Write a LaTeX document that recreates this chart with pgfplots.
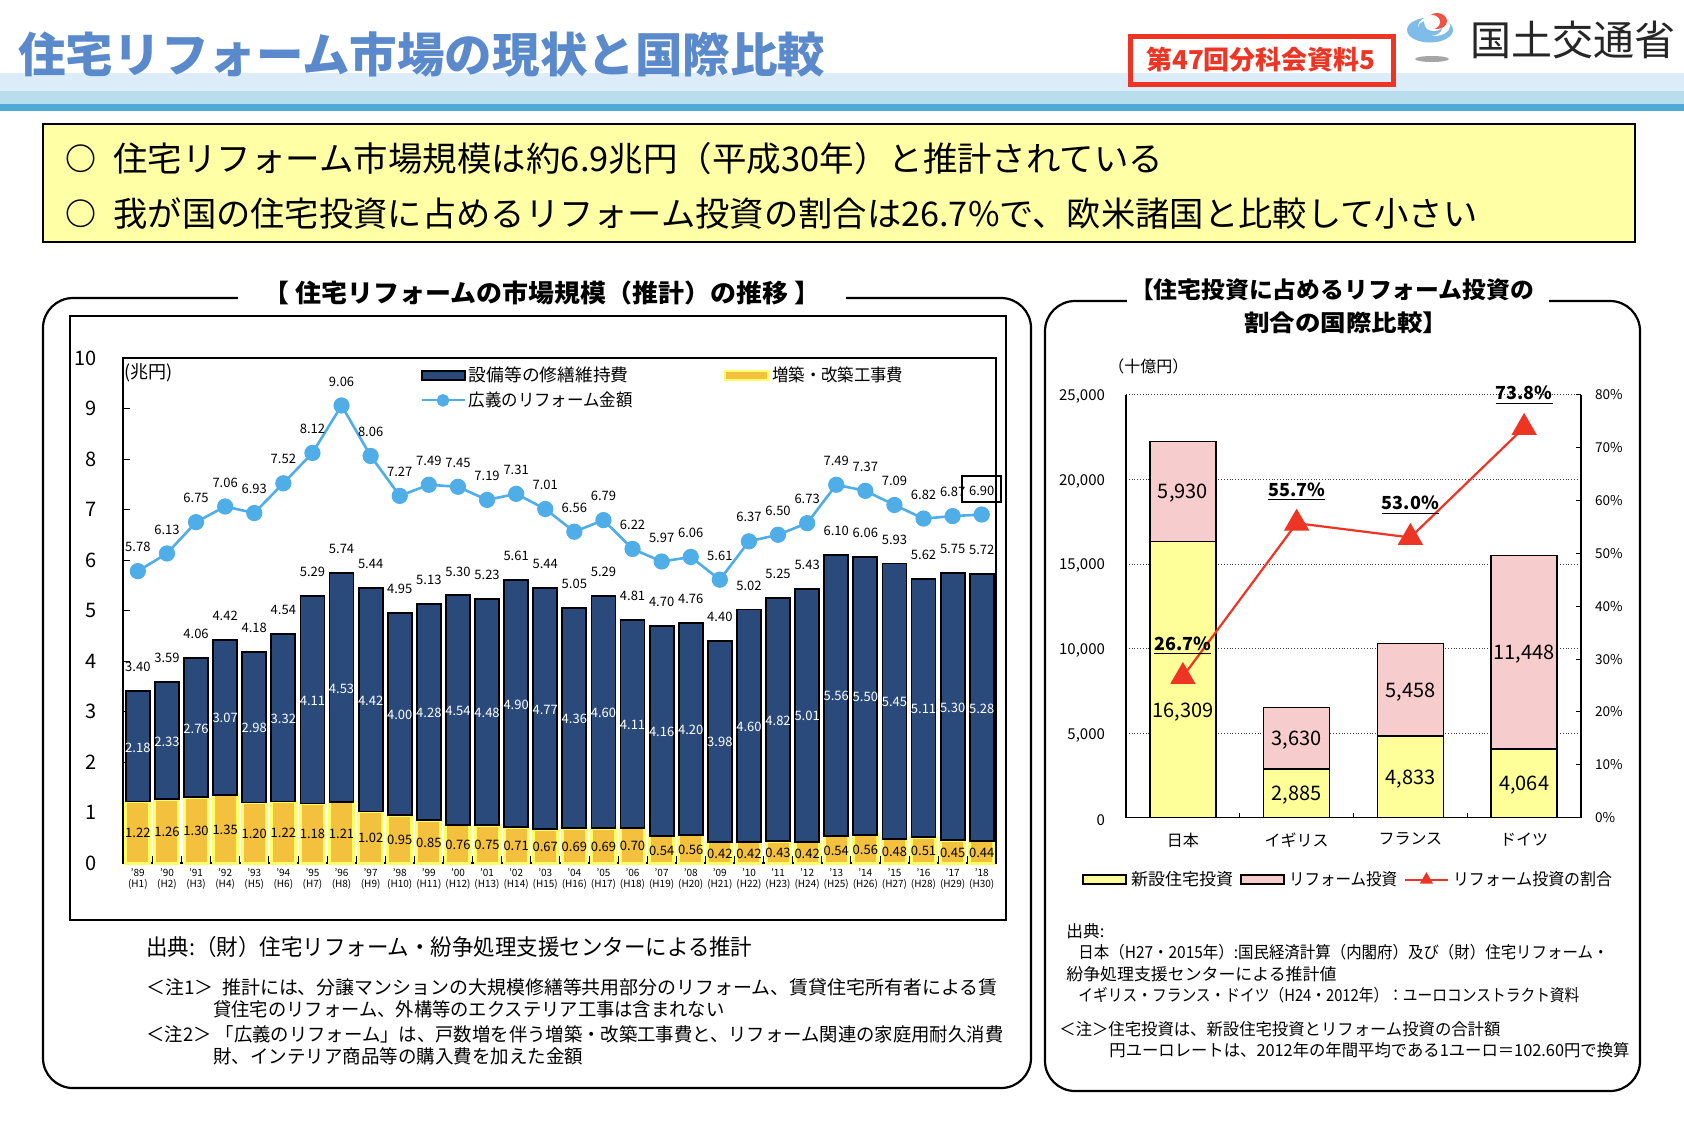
\documentclass[border=0pt]{standalone}
\usepackage{fontspec}
\usepackage{graphicx}
\usepackage{pgfplots}
\usepackage{pgfplotstable}
\pgfplotsset{compat=1.18}
\setmainfont{Noto Sans CJK JP}

\definecolor{navy}{HTML}{2B4A7C}
\definecolor{gold}{HTML}{F4C13E}
\definecolor{goldedge}{HTML}{FFFF66}
\definecolor{sky}{HTML}{4FAEE8}
\definecolor{newyel}{HTML}{FFFF99}
\definecolor{pink}{HTML}{F6CCCC}
\definecolor{redl}{HTML}{EE3524}
\definecolor{boxyel}{HTML}{FFFFA6}
\definecolor{titleblue}{HTML}{5A8ACB}

% text helpers, coordinates in reference pixels
\newcommand{\T}[5]{\node[anchor=#3,inner sep=0pt,font=\fontsize{#4}{#4}\selectfont] at (#1,#2) {#5};}
\newcommand{\TW}[5]{\node[anchor=west,inner sep=0pt,font=\fontsize{#4}{#4}\selectfont] at (#1,#2) {\resizebox{\dimexpr#3pt/2\relax}{\height}{#5}};}
% legend text squeezed to a width given in pt
\newcommand{\LW}[2]{\resizebox{#1pt}{\height}{#2}}

\pgfplotsset{
  swatch/.style={legend image code/.code={\draw[##1] (0pt,-2.2pt) rectangle (21.5pt,2.2pt);}},
  keyline/.style={legend image code/.code={\draw[mark repeat=2,mark phase=2,##1] plot coordinates {(0pt,0pt) (10.7pt,0pt) (21.5pt,0pt)};}},
}

\pgfplotstableread{
i ext rep total wide
0 1.22 2.18 3.40 5.78
1 1.26 2.33 3.59 6.13
2 1.30 2.76 4.06 6.75
3 1.35 3.07 4.42 7.06
4 1.20 2.98 4.18 6.93
5 1.22 3.32 4.54 7.52
6 1.18 4.11 5.29 8.12
7 1.21 4.53 5.74 9.06
8 1.02 4.42 5.44 8.06
9 0.95 4.00 4.95 7.27
10 0.85 4.28 5.13 7.49
11 0.76 4.54 5.30 7.45
12 0.75 4.48 5.23 7.19
13 0.71 4.90 5.61 7.31
14 0.67 4.77 5.44 7.01
15 0.69 4.36 5.05 6.56
16 0.69 4.60 5.29 6.79
17 0.70 4.11 4.81 6.22
18 0.54 4.16 4.70 5.97
19 0.56 4.20 4.76 6.06
20 0.42 3.98 4.40 5.61
21 0.42 4.60 5.02 6.37
22 0.43 4.82 5.25 6.50
23 0.42 5.01 5.43 6.73
24 0.54 5.56 6.10 7.49
25 0.56 5.50 6.06 7.37
26 0.48 5.45 5.93 7.09
27 0.51 5.11 5.62 6.82
28 0.45 5.30 5.75 6.87
29 0.44 5.28 5.72 6.90
}\markettab

\begin{document}
\begin{tikzpicture}
\useasboundingbox (0,0) rectangle (842pt,-563pt);
\begin{scope}[x=0.5pt,y=-0.5pt]
% header bands
\fill[white] (0,0) rectangle (1684,1126);
\fill[color={rgb,255:red,220;green,236;blue,249}] (0,73) rectangle (1684,91);
\fill[color={rgb,255:red,184;green,222;blue,237}] (0,91) rectangle (1684,104);
\fill[color={rgb,255:red,79;green,169;blue,214}] (0,104) rectangle (1684,111);
\node[anchor=west,inner sep=0pt,text=titleblue,font=\fontsize{23.7}{24}\selectfont\bfseries] at (18,55) {\resizebox{403.5pt}{\height}{住宅リフォーム市場の現状と国際比較}};
\draw[redl,line width=2.5pt] (1130,36) rectangle (1393,84);
\node[inner sep=0pt,text=redl,font=\fontsize{13}{13}\selectfont\bfseries] at (1261,60) {第47回分科会資料5};
% logo
\fill[black!35] (1432,59) ellipse (17 and 3);
\fill[color={rgb,255:red,127;green,188;blue,232}] (1430,30) ellipse (23 and 12.5);
\fill[white] (1434,26) ellipse (16 and 10);
\fill[color={rgb,255:red,127;green,188;blue,232}] (1430,28) ellipse (12 and 8);
\fill[white] (1434,25) ellipse (9 and 6);
\fill[redl!85] (1437,21) ellipse (10 and 8);
\fill[white] (1432,22) ellipse (8 and 7);
\node[anchor=west,inner sep=0pt,text=black!85,font=\fontsize{20.5}{21}\selectfont] at (1470,40) {国土交通省};
% summary box
\draw[fill=boxyel,line width=1pt] (43,124) rectangle (1635,242);
\node[anchor=west,inner sep=0pt,font=\fontsize{15.5}{16}\selectfont\bfseries] at (65,159) {○};
\TW{113}{159}{1050}{17}{住宅リフォーム市場規模は約6.9兆円（平成30年）と推計されている}
\node[anchor=west,inner sep=0pt,font=\fontsize{15.5}{16}\selectfont\bfseries] at (65,214) {○};
\TW{113}{214}{1364}{17}{我が国の住宅投資に占めるリフォーム投資の割合は26.7\%で、欧米諸国と比較して小さい}
% panels
\draw[line width=1.1pt,rounded corners=15pt] (43,298) rectangle (1031,1088);
\draw[white,line width=3pt] (238,298) -- (846,298);
\draw[line width=1.1pt,rounded corners=15pt] (1045,301) rectangle (1640,1091);
\draw[white,line width=3pt] (1127,301) -- (1549,301);
\draw[line width=1.15pt] (70,316) rectangle (1006,920);
\node[inner sep=0pt,font=\fontsize{12.5}{13}\selectfont\bfseries] at (542,293) {\resizebox{278pt}{\height}{【 住宅リフォームの市場規模（推計）の推移 】}};
\node[inner sep=0pt,font=\fontsize{11.5}{12}\selectfont\bfseries] at (1332,290) {\resizebox{202pt}{\height}{【住宅投資に占めるリフォーム投資の}};
\node[inner sep=0pt,font=\fontsize{11.5}{12}\selectfont\bfseries] at (1346,323) {\resizebox{102pt}{\height}{割合の国際比較】}};
\T{124}{373}{west}{9}{(兆円)}
\T{1108}{366}{west}{8}{（十億円）}
% notes under the left chart
\TW{146}{947}{606}{11.2}{出典:（財）住宅リフォーム・紛争処理支援センターによる推計}
\TW{146}{987}{851}{9.4}{＜注1＞\ \ 推計には、分譲マンションの大規模修繕等共用部分のリフォーム、賃貸住宅所有者による賃}
\TW{213}{1009}{511}{9.4}{貸住宅のリフォーム、外構等のエクステリア工事は含まれない}
\TW{146}{1034}{857}{9.4}{＜注2＞\ 「広義のリフォーム」は、戸数増を伴う増築・改築工事費と、リフォーム関連の家庭用耐久消費}
\TW{213}{1056}{370}{9.4}{財、インテリア商品等の購入費を加えた金額}
% notes under the right chart
\TW{1066}{931}{38}{8.3}{出典:}
\TW{1078}{952.5}{530}{8.3}{日本（H27・2015年）:国民経済計算（内閣府）及び（財）住宅リフォーム・}
\TW{1066}{974}{270}{8.3}{紛争処理支援センターによる推計値}
\TW{1078}{995.5}{501}{8.3}{イギリス・フランス・ドイツ（H24・2012年）：ユーロコンストラクト資料}
\TW{1059}{1029}{441}{8.3}{＜注＞住宅投資は、新設住宅投資とリフォーム投資の合計額}
\TW{1109}{1050.5}{520}{8.3}{円ユーロレートは、2012年の年間平均である1ユーロ＝102.60円で換算}
\end{scope}

% market size chart
\begin{axis}[
  at={(61.65pt,-431.5pt)}, anchor=south west,
  scale only axis, width=436.5pt, height=252.5pt,
  xmin=-0.5, xmax=29.5, ymin=0, ymax=10, clip=false,
  axis line style={line width=.85pt},
  tick style={black,line width=.4pt}, tick align=inside, major tick length=3.5pt,
  xtick pos=bottom, ytick pos=left,
  ytick={0,1,...,10},
  xtick={-0.5,0.5,...,29.5},
  x tick label as interval,
  xticklabels={{'89\\(H1)},{'90\\(H2)},{'91\\(H3)},{'92\\(H4)},{'93\\(H5)},{'94\\(H6)},{'95\\(H7)},{'96\\(H8)},{'97\\(H9)},{'98\\(H10)},{'99\\(H11)},{'00\\(H12)},{'01\\(H13)},{'02\\(H14)},{'03\\(H15)},{'04\\(H16)},{'05\\(H17)},{'06\\(H18)},{'07\\(H19)},{'08\\(H20)},{'09\\(H21)},{'10\\(H22)},{'11\\(H23)},{'12\\(H24)},{'13\\(H25)},{'14\\(H26)},{'15\\(H27)},{'16\\(H28)},{'17\\(H29)},{'18\\(H30)}},
  xticklabel style={align=center,font=\fontsize{5}{5.5}\selectfont,inner sep=1pt,yshift=-1.5pt},
  yticklabel style={font=\fontsize{10}{10}\selectfont,/pgf/number format/assume math mode=true},
  yticklabel shift=10pt,
  legend style={at={(0.340,0.990)},anchor=north west,draw=none,fill=none,inner sep=0pt,
    nodes={inner sep=1.5pt},
    font=\fontsize{8.7}{9}\selectfont,legend columns=2,
    /tikz/every even column/.append style={column sep=44.3pt},/tikz/row sep=0.7pt},
  legend cell align=left,
  nodes near coords={\pgfplotspointmeta},
]
\addplot[forget plot,ybar,bar shift=0pt,stack plots=y,bar width=12pt,fill=gold,draw=goldedge,line width=1.5pt,nodes near coords=] table[x=i,y=ext]{\markettab};
\addplot[forget plot,ybar,bar shift=0pt,stack plots=y,bar width=12pt,fill=navy,draw=black,line width=.9pt,nodes near coords=] table[x=i,y=rep]{\markettab};
\addplot[forget plot,stack plots=false,sky,line width=1.3pt,mark=*,mark size=3.4pt,mark options={fill=sky,draw=sky},nodes near coords=] table[x=i,y=wide]{\markettab};
% value labels
\addplot[forget plot,stack plots=false,only marks,mark=none,point meta=explicit symbolic,nodes near coords style={anchor=center,yshift=-.5pt,inner sep=0pt,font=\fontsize{6.5}{6.5}\selectfont,text=black}] table[x=i,y expr=\thisrow{ext}/2,meta=ext]{\markettab};
\addplot[forget plot,stack plots=false,only marks,mark=none,point meta=explicit symbolic,nodes near coords style={anchor=center,yshift=-.5pt,inner sep=0pt,font=\fontsize{6.5}{6.5}\selectfont,text=white}] table[x=i,y expr=\thisrow{ext}+\thisrow{rep}/2,meta=rep]{\markettab};
\addplot[forget plot,stack plots=false,only marks,mark=none,point meta=explicit symbolic,nodes near coords style={anchor=center,yshift=12pt,inner sep=0pt,font=\fontsize{6.5}{6.5}\selectfont,text=black}] table[x=i,y=total,meta=total]{\markettab};
\addplot[forget plot,stack plots=false,only marks,mark=none,point meta=explicit symbolic,nodes near coords style={anchor=center,yshift=12pt,inner sep=0pt,font=\fontsize{6.5}{6.5}\selectfont,text=black}] table[x=i,y=wide,meta=wide]{\markettab};
\addlegendimage{swatch,fill=navy,draw=black,line width=.9pt}
\addlegendentry{\LW{80}{設備等の修繕維持費}}
\addlegendimage{swatch,fill=gold,draw=goldedge,line width=1pt}
\addlegendentry{\LW{65.5}{増築・改築工事費}}
\addlegendimage{keyline,sky,line width=1.1pt,mark=*,mark size=2.6pt,mark options={fill=sky,draw=sky}}
\addlegendentry{\LW{82}{広義のリフォーム金額}}
\end{axis}

% international comparison, bars
\begin{axis}[
  at={(563pt,-408.85pt)}, anchor=south west,
  scale only axis, width=227.5pt, height=211.5pt,
  xmin=-0.5, xmax=3.5, ymin=0, ymax=25000, clip=false,
  axis x line=bottom, axis y line=left,
  axis line style={-,line width=.75pt},
  tick style={black,line width=.4pt}, tick align=inside, major tick length=2.5pt,
  ytick={0,5000,10000,15000,20000,25000},
  ytick style={draw=none},
  scaled y ticks=false,
  yticklabel={\pgfmathprintnumber[1000 sep={,},assume math mode=true]{\tick}},
  xtick={-0.5,0.5,1.5,2.5,3.5},
  x tick label as interval,
  xticklabels={日本,イギリス,フランス,ドイツ},
  xticklabel style={font=\fontsize{8}{8}\selectfont,yshift=-4pt},
  yticklabel style={font=\fontsize{7.5}{7.5}\selectfont,yshift=-1pt},
  yticklabel shift=7pt,
  ymajorgrids, grid style={densely dotted,line width=.35pt,black!75},
  legend style={at={(-0.0967,-0.1466)},anchor=west,draw=none,fill=none,inner sep=0pt,
    nodes={inner sep=2pt},
    font=\fontsize{8.4}{9}\selectfont,legend columns=3,
    /tikz/every even column/.append style={column sep=1.5pt}},
  legend cell align=left,
  nodes near coords={\pgfplotspointmeta},
]
\addplot[forget plot,ybar,bar shift=0pt,stack plots=y,bar width=33pt,fill=newyel,draw=black,line width=.7pt,nodes near coords=] coordinates {(0,16309) (1,2885) (2,4833) (3,4064)};
\addplot[forget plot,ybar,bar shift=0pt,stack plots=y,bar width=33pt,fill=pink,draw=black,line width=.7pt,nodes near coords=] coordinates {(0,5930) (1,3630) (2,5458) (3,11448)};
\addplot[forget plot,stack plots=false,only marks,mark=none,point meta=explicit symbolic,nodes near coords style={anchor=center,yshift=-1pt,inner sep=0pt,font=\fontsize{10}{10}\selectfont,text=black}] table[meta=l] {
x y l
0 6330 16,309
1 1442 2,885
2 2416 4,833
3 2032 4,064
0 19274 5,930
1 4700 3,630
2 7562 5,458
3 9788 11,448
};
\addlegendimage{swatch,fill=newyel,draw=black,line width=.9pt}
\addlegendentry{\LW{51}{新設住宅投資}}
\addlegendimage{swatch,fill=pink,draw=black,line width=.9pt}
\addlegendentry{\LW{54}{リフォーム投資}}
\addlegendimage{keyline,redl,line width=1pt,mark=triangle*,mark size=2.8pt,mark options={fill=redl,draw=redl}}
\addlegendentry{\LW{79.5}{リフォーム投資の割合}}
\end{axis}

% international comparison, share line
\begin{axis}[
  at={(563pt,-408.85pt)}, anchor=south west,
  scale only axis, width=227.5pt, height=211.5pt,
  xmin=-0.5, xmax=3.5, ymin=0, ymax=80, clip=false,
  axis x line=none, axis y line=right,
  axis line style={-,line width=.75pt},
  tick style={black,line width=.5pt}, tick align=inside, major tick length=2.5pt,
  ytick={0,10,...,80},
  yticklabel={\pgfmathprintnumber[assume math mode=true]{\tick}\%},
  yticklabel style={font=\fontsize{6.8}{6.8}\selectfont},
  yticklabel shift=3.5pt,
]
\addplot[redl,line width=1.1pt,mark=triangle*,mark size=6.2pt,mark options={fill=redl,draw=redl}] coordinates {(0,26.7) (1,55.7) (2,53.0) (3,73.8)};
\addplot[only marks,mark=none,point meta=explicit symbolic,nodes near coords={\underline{\pgfplotspointmeta\%}},nodes near coords style={anchor=center,inner sep=0pt,font=\fontsize{9}{9}\selectfont\bfseries,text=black}] table[meta=l] {
x y l
0 32.6 26.7
1 61.7 55.7
2 59.1 53.0
3 79.9 73.8
};
\end{axis}

\begin{scope}[x=0.5pt,y=-0.5pt]
\draw[line width=.9pt] (962,476) rectangle (1001,502);
\end{scope}
\end{tikzpicture}
\end{document}
